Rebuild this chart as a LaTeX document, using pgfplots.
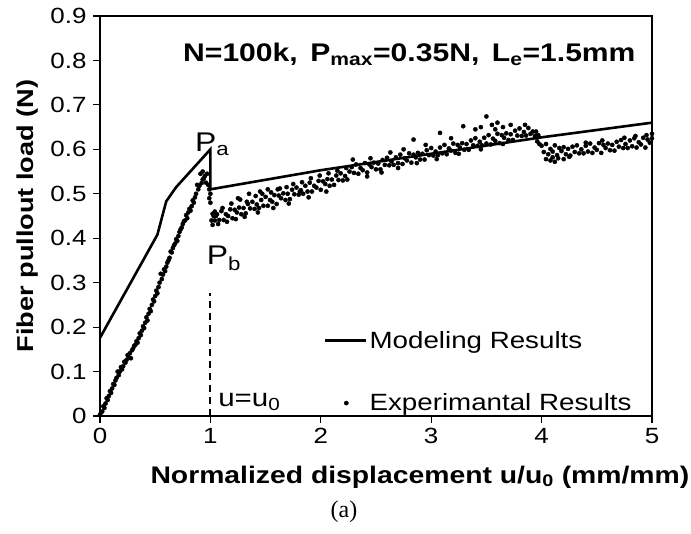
\documentclass[border=0pt]{standalone}
\usepackage{fontspec}
\setmainfont{Liberation Sans}[FakeStretch=1.18]
\newfontfamily\capfont{Liberation Serif}
\usepackage{pgfplots}
\pgfplotsset{compat=1.18}
\pgfplotsset{
 legline/.style={legend image code/.code={\draw[##1] (0pt,0pt) -- (41pt,0pt);}},
 legdot/.style={legend image code/.code={\draw[mark repeat=2,mark phase=2,##1] plot coordinates {(0pt,0pt) (21pt,0pt) (41pt,0pt)};}},
}
\newcommand\fs[1]{\fontsize{#1}{#1}\selectfont}
\begin{document}
\begin{tikzpicture}
\begin{axis}[
  scale only axis, width=552pt, height=400pt,
  xmin=0, xmax=5, ymin=0, ymax=0.9,
  xtick={0,1,2,3,4,5}, ytick={0,0.1,0.2,0.3,0.4,0.5,0.6,0.7,0.8,0.9},
  tick pos=left, tick align=outside, major tick length=7pt,
  tick style={black, line width=1.2pt},
  axis line style={line width=2pt},
  /pgf/number format/assume math mode=true,
  /pgf/number format/fixed, /pgf/number format/precision=1,
  ticklabel style={font=\fs{22}},
  xticklabel style={yshift=-2pt},
  yticklabel style={xshift=-3pt},
  xlabel={\bfseries Normalized displacement u/u\textsubscript{0} (mm/mm)},
  ylabel={\bfseries Fiber pullout load (N)},
  xlabel style={font=\fs{24}, anchor=base, at={(axis description cs:0.5795,-0.1675)}},
  ylabel style={font=\fs{23}, anchor=base, at={(axis description cs:-0.121,0.5)}},
  clip=false,
  legend style={draw=none, fill=none, font=\fs{23.5}, at={(axis cs:2.0,0.20)}, anchor=north west, row sep=40pt},
  legend cell align=left,
]
\addplot[black, line width=2.6pt, legline] coordinates {
(0,0.176) (0.52,0.408) (0.60,0.483) (0.69,0.515) (1.0,0.600) (1.0,0.510) (2,0.553) (3,0.590) (4,0.627) (5,0.660)};
\addlegendentry{Modeling Results}
\addplot[only marks, mark=*, mark size=2.1pt, black, legdot] table {
x y
0.00 0.003
0.01 0.008
0.02 0.010
0.03 0.022
0.04 0.018
0.05 0.028
0.06 0.040
0.07 0.036
0.08 0.045
0.09 0.056
0.10 0.052
0.11 0.062
0.12 0.072
0.13 0.070
0.14 0.080
0.15 0.086
0.16 0.100
0.17 0.092
0.18 0.100
0.19 0.110
0.20 0.105
0.21 0.112
0.22 0.122
0.23 0.120
0.24 0.126
0.25 0.137
0.26 0.132
0.27 0.141
0.28 0.130
0.29 0.148
0.30 0.152
0.31 0.158
0.32 0.160
0.33 0.168
0.34 0.165
0.35 0.175
0.36 0.186
0.37 0.182
0.38 0.192
0.39 0.202
0.40 0.198
0.41 0.210
0.42 0.222
0.43 0.215
0.44 0.230
0.45 0.241
0.46 0.236
0.47 0.250
0.48 0.262
0.49 0.258
0.50 0.270
0.51 0.282
0.52 0.276
0.53 0.290
0.54 0.300
0.55 0.320
0.56 0.308
0.57 0.318
0.58 0.330
0.59 0.326
0.60 0.336
0.61 0.345
0.62 0.350
0.63 0.356
0.64 0.370
0.65 0.368
0.66 0.378
0.67 0.384
0.68 0.388
0.69 0.398
0.70 0.394
0.71 0.405
0.72 0.414
0.73 0.420
0.74 0.424
0.75 0.432
0.76 0.438
0.77 0.440
0.78 0.452
0.79 0.445
0.80 0.458
0.81 0.466
0.82 0.462
0.83 0.472
0.84 0.485
0.85 0.480
0.86 0.492
0.87 0.500
0.88 0.520
0.89 0.510
0.90 0.518
0.91 0.545
0.92 0.524
0.93 0.532
0.93 0.550
0.94 0.535
0.95 0.540
0.96 0.525
0.97 0.545
0.98 0.520
0.99 0.510
1.00 0.500
0.99 0.490
1.00 0.480
1.01 0.440
1.02 0.455
1.02 0.430
1.03 0.450
1.04 0.460
1.04 0.440
1.05 0.450
1.06 0.454
1.07 0.432
1.08 0.441
1.10 0.461
1.11 0.468
1.12 0.441
1.14 0.454
1.15 0.437
1.16 0.450
1.18 0.465
1.19 0.478
1.20 0.445
1.22 0.464
1.23 0.443
1.24 0.458
1.25 0.490
1.26 0.469
1.27 0.487
1.28 0.454
1.30 0.468
1.31 0.448
1.32 0.456
1.33 0.482
1.34 0.477
1.35 0.500
1.36 0.467
1.38 0.482
1.40 0.466
1.41 0.495
1.42 0.476
1.43 0.458
1.44 0.468
1.45 0.505
1.46 0.486
1.47 0.500
1.48 0.473
1.50 0.493
1.52 0.473
1.52 0.510
1.54 0.486
1.55 0.503
1.56 0.482
1.57 0.468
1.58 0.497
1.60 0.477
1.61 0.510
1.62 0.496
1.63 0.512
1.64 0.490
1.66 0.501
1.68 0.486
1.69 0.515
1.70 0.500
1.71 0.478
1.72 0.488
1.74 0.509
1.75 0.522
1.76 0.499
1.78 0.514
1.80 0.498
1.81 0.505
1.82 0.508
1.83 0.526
1.84 0.500
1.86 0.518
1.88 0.505
1.89 0.492
1.90 0.525
1.91 0.535
1.92 0.505
1.94 0.518
1.96 0.514
1.98 0.529
1.99 0.541
2.00 0.509
2.02 0.528
2.04 0.522
2.05 0.505
2.06 0.533
2.07 0.546
2.08 0.518
2.10 0.532
2.12 0.520
2.14 0.541
2.15 0.552
2.16 0.531
2.18 0.546
2.20 0.530
2.22 0.540
2.23 0.558
2.24 0.532
2.26 0.550
2.28 0.560
2.29 0.577
2.30 0.547
2.32 0.566
2.34 0.545
2.36 0.558
2.38 0.553
2.40 0.569
2.42 0.548
2.42 0.539
2.44 0.566
2.45 0.580
2.46 0.560
2.48 0.570
2.50 0.555
2.52 0.568
2.54 0.555
2.55 0.548
2.56 0.576
2.58 0.565
2.60 0.581
2.62 0.564
2.63 0.593
2.64 0.573
2.66 0.565
2.68 0.582
2.70 0.569
2.70 0.558
2.72 0.588
2.74 0.567
2.75 0.600
2.76 0.580
2.78 0.575
2.80 0.591
2.82 0.570
2.84 0.588
2.84 0.622
2.86 0.582
2.87 0.569
2.88 0.592
2.90 0.577
2.92 0.590
2.94 0.577
2.95 0.610
2.96 0.598
2.98 0.587
3.00 0.603
3.02 0.586
3.04 0.595
3.05 0.578
3.06 0.587
3.08 0.604
3.08 0.637
3.10 0.591
3.12 0.610
3.14 0.589
3.16 0.602
3.18 0.597
3.18 0.625
3.20 0.613
3.22 0.592
3.24 0.610
3.25 0.590
3.26 0.604
3.28 0.614
3.29 0.652
3.30 0.599
3.32 0.612
3.34 0.599
3.36 0.620
3.38 0.609
3.40 0.625
3.40 0.645
3.42 0.608
3.44 0.617
3.45 0.650
3.45 0.600
3.46 0.609
3.48 0.626
3.50 0.613
3.50 0.674
3.52 0.632
3.54 0.611
3.55 0.655
3.56 0.624
3.58 0.619
3.58 0.645
3.60 0.635
3.60 0.660
3.62 0.614
3.64 0.632
3.65 0.650
3.65 0.612
3.66 0.626
3.68 0.636
3.70 0.621
3.72 0.634
3.72 0.655
3.74 0.621
3.76 0.642
3.78 0.631
3.80 0.647
3.82 0.630
3.84 0.639
3.85 0.655
3.86 0.631
3.88 0.648
3.90 0.635
3.92 0.640
3.94 0.630
3.95 0.640
3.96 0.618
3.97 0.632
3.98 0.612
4.00 0.608
4.02 0.594
4.04 0.612
4.04 0.578
4.06 0.589
4.08 0.601
4.08 0.575
4.10 0.595
4.10 0.582
4.12 0.609
4.12 0.572
4.14 0.587
4.15 0.580
4.16 0.603
4.18 0.596
4.20 0.605
4.20 0.578
4.22 0.589
4.24 0.601
4.25 0.583
4.26 0.586
4.28 0.606
4.30 0.594
4.32 0.609
4.34 0.591
4.36 0.600
4.38 0.591
4.40 0.608
4.40 0.615
4.42 0.595
4.44 0.613
4.46 0.592
4.48 0.604
4.50 0.599
4.52 0.614
4.54 0.592
4.55 0.620
4.56 0.610
4.58 0.603
4.60 0.613
4.62 0.598
4.64 0.610
4.66 0.597
4.68 0.617
4.70 0.606
4.72 0.621
4.74 0.603
4.75 0.626
4.76 0.612
4.78 0.603
4.80 0.620
4.82 0.607
4.84 0.625
4.85 0.630
4.86 0.604
4.88 0.616
4.90 0.611
4.92 0.626
4.94 0.604
4.95 0.632
4.96 0.622
4.98 0.615
5.00 0.625
5.00 0.635
};
\addlegendentry{Experimantal Results}
\addplot[black, line width=1.8pt, dash pattern=on 7pt off 5pt, forget plot] coordinates {(1,0) (1,0.277)};
\node[anchor=base west, font=\fs{25.5}\bfseries, inner sep=0pt] at (axis cs:0.752,0.797) {N=100k,\, P\textsubscript{max}=0.35N,\, L\textsubscript{e}=1.5mm};
\node[anchor=base west, font=\fs{27}, inner sep=0pt] at (axis cs:0.86,0.595) {P\textsubscript{a}};
\node[anchor=base west, font=\fs{27}, inner sep=0pt] at (axis cs:0.966,0.34) {P\textsubscript{b}};
\node[anchor=base west, font=\fs{25}, inner sep=0pt] at (axis cs:1.07,0.021) {u=u\textsubscript{0}};
\node[anchor=base, font=\capfont\fs{24}, inner sep=0pt] at (axis cs:2.21,-0.2275) {(a)};
\coordinate (bl) at (rel axis cs:0,0);
\end{axis}
\pgfresetboundingbox
\path (bl) +(-100pt,-117pt) rectangle +(591pt,416pt);
\end{tikzpicture}
\end{document}
